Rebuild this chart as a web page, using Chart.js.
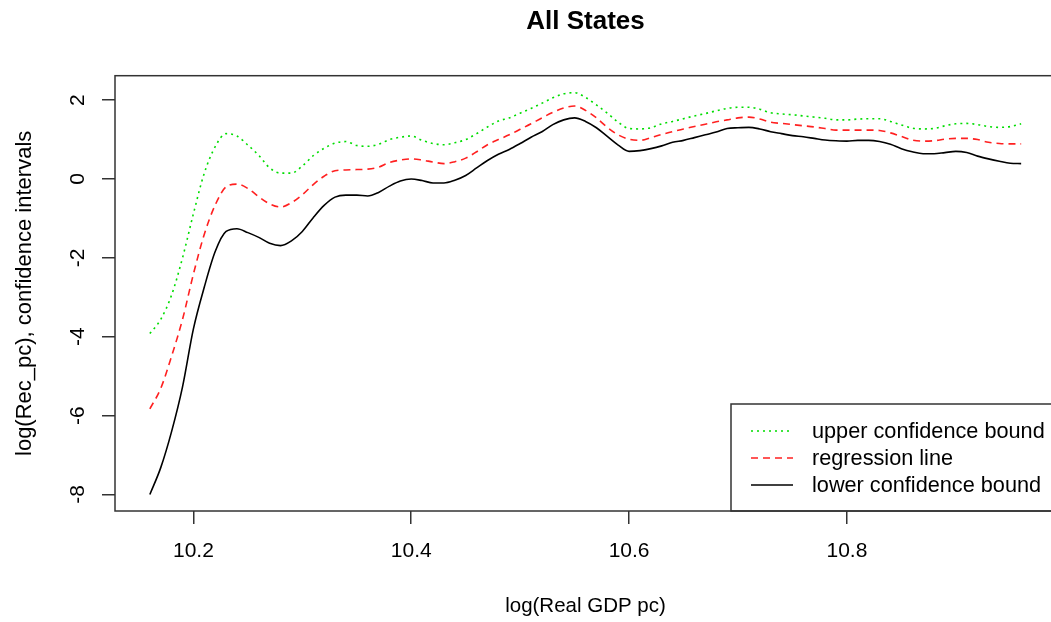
<!DOCTYPE html>
<html lang="en">
<head>
    <meta charset="UTF-8">
    <title>All States</title>
    <style>
        html, body { margin: 0; padding: 0; background: #fff; overflow: hidden; }
        canvas { display: block; }
    </style>
</head>
<body>
    <canvas id="chart" width="1062" height="622"></canvas>
    <script src="https://cdn.jsdelivr.net/npm/chart.js"></script>
    <script>
        // log(Real GDP pc) grid
        const xVals = [10.16,10.17,10.18,10.19,10.20,10.21,10.22,10.23,10.24,10.25,
                       10.26,10.27,10.28,10.29,10.30,10.31,10.32,10.33,10.34,10.35,
                       10.36,10.37,10.38,10.39,10.40,10.41,10.42,10.43,10.44,10.45,
                       10.46,10.47,10.48,10.49,10.50,10.51,10.52,10.53,10.54,10.55,
                       10.56,10.57,10.58,10.59,10.60,10.61,10.62,10.63,10.64,10.65,
                       10.66,10.67,10.68,10.69,10.70,10.71,10.72,10.73,10.74,10.75,
                       10.76,10.77,10.78,10.79,10.80,10.81,10.82,10.83,10.84,10.85,
                       10.86,10.87,10.88,10.89,10.90,10.91,10.92,10.93,10.94,10.95,10.96];

        const upperBound = [-3.92,-3.56,-2.94,-2.00,-0.88,0.15,0.82,1.15,1.09,0.86,
                            0.60,0.28,0.15,0.15,0.33,0.59,0.78,0.91,0.95,0.85,
                            0.83,0.88,1.00,1.06,1.09,0.98,0.90,0.87,0.92,1.00,
                            1.15,1.32,1.47,1.55,1.67,1.79,1.92,2.06,2.16,2.19,
                            2.07,1.88,1.67,1.44,1.28,1.27,1.30,1.40,1.46,1.53,
                            1.60,1.66,1.73,1.79,1.82,1.82,1.77,1.68,1.65,1.63,
                            1.60,1.57,1.54,1.50,1.50,1.52,1.53,1.53,1.46,1.37,
                            1.29,1.27,1.28,1.35,1.40,1.41,1.38,1.33,1.31,1.33,1.40];

        const regression = [-5.83,-5.31,-4.49,-3.56,-2.41,-1.40,-0.66,-0.20,-0.13,-0.24,
                            -0.45,-0.63,-0.71,-0.60,-0.40,-0.14,0.07,0.21,0.23,0.24,
                            0.25,0.30,0.42,0.48,0.51,0.48,0.43,0.39,0.44,0.53,
                            0.69,0.87,1.00,1.12,1.26,1.40,1.55,1.69,1.80,1.85,
                            1.74,1.55,1.31,1.12,1.01,0.98,1.05,1.13,1.20,1.27,
                            1.33,1.39,1.45,1.50,1.55,1.57,1.52,1.44,1.41,1.38,
                            1.35,1.32,1.28,1.24,1.24,1.24,1.24,1.23,1.17,1.08,
                            0.99,0.96,0.97,1.01,1.03,1.03,1.00,0.93,0.90,0.89,0.89];

        const lowerBound = [-8.00,-7.32,-6.40,-5.27,-3.80,-2.74,-1.84,-1.33,-1.26,-1.36,
                            -1.48,-1.63,-1.69,-1.57,-1.33,-0.98,-0.67,-0.46,-0.41,-0.41,
                            -0.43,-0.34,-0.18,-0.05,0.00,-0.04,-0.10,-0.10,-0.03,0.09,
                            0.28,0.47,0.63,0.75,0.90,1.06,1.20,1.38,1.50,1.55,
                            1.46,1.30,1.08,0.86,0.70,0.72,0.77,0.84,0.93,0.98,
                            1.05,1.12,1.19,1.28,1.30,1.31,1.27,1.20,1.15,1.10,
                            1.07,1.03,0.99,0.97,0.96,0.98,0.98,0.95,0.88,0.77,
                            0.69,0.64,0.64,0.67,0.70,0.67,0.58,0.51,0.45,0.40,0.39];

        const xTicks = [10.2, 10.4, 10.6, 10.8];
        const yTicks = [-8, -6, -4, -2, 0, 2];
        const seriesLabels = ["upper confidence bound", "regression line", "lower confidence bound"];

        const toPoints = arr => arr.map((v, i) => ({x: xVals[i], y: v}));

        Chart.defaults.font.family = '"Liberation Sans", Arial, sans-serif';
        Chart.defaults.color = "#000";

        // box around the plot + legend in the bottom right corner (like R's legend("bottomright"))
        const boxAndLegend = {
            id: "boxAndLegend",
            afterDatasetsDraw(chart) {
                const {ctx, chartArea: a} = chart;
                ctx.save();
                const w = 325, h = 107;
                const lx = a.right - w, ly = a.bottom - h;
                ctx.fillStyle = "#fff";
                ctx.fillRect(lx, ly, w, h);
                ctx.strokeStyle = "#333";
                ctx.lineWidth = 1.5;
                ctx.strokeRect(lx, ly, w, h);
                chart.data.datasets.forEach((ds, i) => {
                    const y = ly + 27 + i * 27;
                    ctx.setLineDash(ds.borderDash || []);
                    ctx.strokeStyle = ds.borderColor;
                    ctx.lineWidth = ds.borderWidth;
                    ctx.beginPath();
                    ctx.moveTo(lx + 20, y);
                    ctx.lineTo(lx + 62, y);
                    ctx.stroke();
                    ctx.setLineDash([]);
                    ctx.fillStyle = "#000";
                    ctx.font = '21.7px "Liberation Sans", Arial, sans-serif';
                    ctx.textBaseline = "middle";
                    ctx.textAlign = "left";
                    ctx.fillText(ds.label, lx + 81, y + 1);
                });
                ctx.strokeStyle = "#333";
                ctx.lineWidth = 1.5;
                ctx.strokeRect(a.left, a.top, a.width, a.height);
                ctx.restore();
            }
        };

        new Chart(document.getElementById("chart").getContext("2d"), {
            type: "line",
            data: {
                datasets: [
                    {
                        label: seriesLabels[0],
                        data: toPoints(upperBound),
                        borderColor: "#00dd00",
                        borderWidth: 1.6,
                        borderDash: [2, 4]
                    },
                    {
                        label: seriesLabels[1],
                        data: toPoints(regression),
                        borderColor: "#ff2020",
                        borderWidth: 1.6,
                        borderDash: [7, 5]
                    },
                    {
                        label: seriesLabels[2],
                        data: toPoints(lowerBound),
                        borderColor: "#000",
                        borderWidth: 1.6
                    }
                ]
            },
            options: {
                responsive: false,
                animation: false,
                events: [],
                cubicInterpolationMode: "monotone",
                pointRadius: 0,
                layout: { padding: { left: 0, right: 6, top: 0, bottom: 0 } },
                plugins: {
                    legend: { display: false },
                    tooltip: { enabled: false },
                    title: {
                        display: true,
                        text: "All States",
                        fullSize: false,
                        color: "#000",
                        font: { size: 26, weight: "bold" },
                        padding: { top: 6.5, bottom: 38 }
                    }
                },
                scales: {
                    x: {
                        type: "linear",
                        min: 10.128,
                        max: 10.992,
                        afterBuildTicks: s => { s.ticks = xTicks.map(v => ({value: v})); },
                        afterFit: s => { s.height = 111; },
                        border: { display: false },
                        grid: { drawOnChartArea: false, drawTicks: true, tickLength: 13, color: "#333", lineWidth: 1.5 },
                        ticks: {
                            padding: 15,
                            font: { size: 21 },
                            maxRotation: 0,
                            callback: v => v.toFixed(1)
                        },
                        title: {
                            display: true,
                            text: "log(Real GDP pc)",
                            font: { size: 20.5 },
                            padding: { top: 0, bottom: 3.4 }
                        }
                    },
                    y: {
                        type: "linear",
                        min: -8.42,
                        max: 2.62,
                        afterBuildTicks: s => { s.ticks = yTicks.map(v => ({value: v})); },
                        afterFit: s => { s.width = 115; },
                        border: { display: false },
                        grid: { drawOnChartArea: false, drawTicks: true, tickLength: 13, color: "#333", lineWidth: 1.5 },
                        ticks: {
                            padding: 14,
                            font: { size: 21 },
                            minRotation: 90,
                            maxRotation: 90,
                            crossAlign: "center",
                            callback: v => String(v)
                        },
                        title: {
                            display: true,
                            text: "log(Rec_pc), confidence intervals",
                            font: { size: 22 },
                            padding: { top: 11.8, bottom: 0 }
                        }
                    }
                }
            },
            plugins: [boxAndLegend]
        });
    </script>
</body>
</html>
